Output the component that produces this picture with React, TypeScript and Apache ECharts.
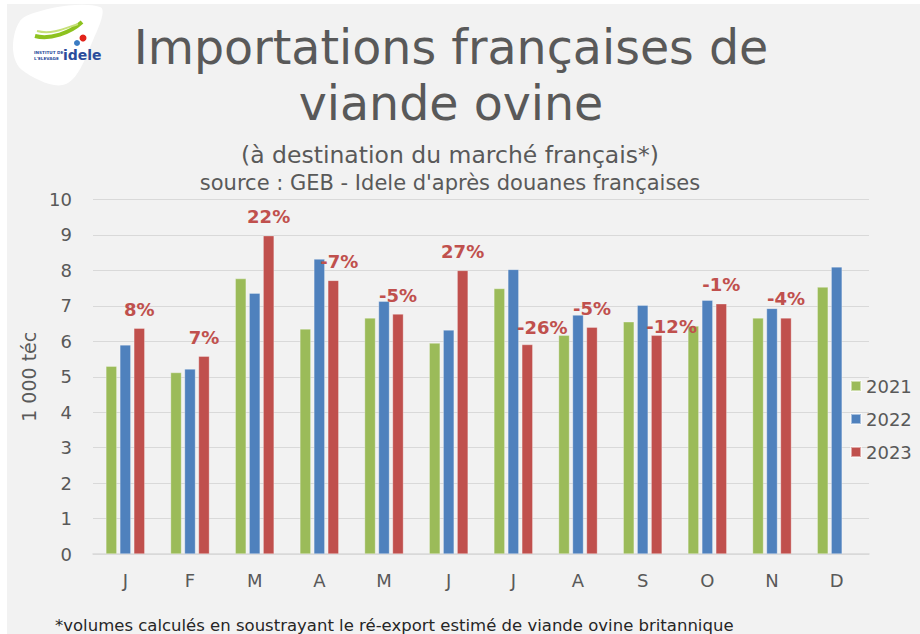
import React, { useEffect, useRef } from "react";
import * as echarts from "echarts";

const months = ["J", "F", "M", "A", "M", "J", "J", "A", "S", "O", "N", "D"];
const years = ["2021", "2022", "2023"];
const v2021 = [5.3, 5.12, 7.77, 6.35, 6.66, 5.95, 7.49, 6.17, 6.55, 6.43, 6.66, 7.53];
const v2022 = [5.9, 5.22, 7.36, 8.32, 7.13, 6.32, 8.03, 6.74, 7.02, 7.16, 6.93, 8.1];
const v2023 = [6.37, 5.58, 8.98, 7.72, 6.77, 8.0, 5.91, 6.4, 6.17, 7.06, 6.66, null];
const changeLabels = ["8%", "7%", "22%", "-7%", "-5%", "27%", "-26%", "-5%", "-12%", "-1%", "-4%", ""];
const yTicks = [0, 10, 1];

const titleLine1 = "Importations françaises de";
const titleLine2 = "viande ovine";
const subtitle = "(à destination du marché français*)";
const source = "source : GEB - Idele d'après douanes françaises";
const footnote = "*volumes calculés en soustrayant le ré-export estimé de viande ovine britannique";
const yName = "1 000 téc";

const COLORS = ["#9bbb59", "#4f81bd", "#c0504d"];
const GRAY = "#595959";
const FONT = "'DejaVu Sans', sans-serif";
// label nudges for crowded months (styling only)
const labelNudge: Record<number, number[]> = { 3: [6, 0], 6: [15, 2], 8: [15, 10] };

export default function App() {
  const ref = useRef<HTMLDivElement>(null);
  useEffect(() => {
    document.body.style.margin = "0";
    const chart = echarts.init(ref.current!, null, { renderer: "svg" });
    const mk = (vals: (number | null)[], i: number) => ({
      name: years[i],
      type: "bar",
      barWidth: 11,
      barGap: "27%",
      itemStyle: { color: COLORS[i], borderColor: "rgba(255,255,255,0.5)", borderWidth: 0.6 },
      data:
        i === 2
          ? vals.map((v, k) => ({
              value: v,
              label: {
                show: changeLabels[k] !== "",
                formatter: changeLabels[k],
                offset: labelNudge[k] || [0, 0],
              },
            }))
          : vals,
      label:
        i === 2
          ? { show: true, position: "top", distance: 10, color: "#c0504d", fontWeight: "bold", fontSize: 18, fontFamily: FONT }
          : { show: false },
    });
    chart.setOption({
      animation: false,
      backgroundColor: "#ffffff",
      graphic: [
        { type: "rect", shape: { x: 7, y: 4, width: 913, height: 630 }, style: { fill: "#f2f2f2" }, z: -10 },
        {
          type: "polygon",
          shape: { points: [[13, 44], [26, 16], [100, 7], [94, 38], [66, 84], [22, 70]], smooth: 0.35 },
          style: { fill: "#ffffff" },
        },
        { type: "bezierCurve", shape: { x1: 35, y1: 36, x2: 82, y2: 22, cpx1: 50, cpy1: 40, cpx2: 70, cpy2: 33 }, style: { stroke: "#8dc21f", lineWidth: 4, fill: "none" } },
        { type: "bezierCurve", shape: { x1: 37, y1: 31, x2: 78, y2: 24, cpx1: 52, cpy1: 35, cpx2: 66, cpy2: 28 }, style: { stroke: "#c6e07a", lineWidth: 2, fill: "none" } },
        { type: "circle", shape: { cx: 77, cy: 43, r: 3 }, style: { fill: "#3a7cc3" } },
        { type: "circle", shape: { cx: 83, cy: 38, r: 3.5 }, style: { fill: "#e2231a" } },
        { type: "text", x: 34, y: 50, style: { text: "INSTITUT DE", fill: "#2b4c9b", fontSize: 4.2, fontWeight: "bold", fontFamily: FONT } },
        { type: "text", x: 34, y: 56, style: { text: "L'ELEVAGE", fill: "#2b4c9b", fontSize: 4.2, fontWeight: "bold", fontFamily: FONT } },
        { type: "text", x: 63, y: 48, style: { text: "idele", fill: "#2b4c9b", fontSize: 14, fontWeight: "bold", fontFamily: FONT } },
        { type: "text", x: 451, y: 47, style: { text: titleLine1, fill: GRAY, fontSize: 47.5, fontFamily: FONT, align: "center", verticalAlign: "middle" } },
        { type: "text", x: 451, y: 103, style: { text: titleLine2, fill: GRAY, fontSize: 47.5, fontFamily: FONT, align: "center", verticalAlign: "middle" } },
        { type: "text", x: 450, y: 155, style: { text: subtitle, fill: GRAY, fontSize: 23.5, fontFamily: FONT, align: "center", verticalAlign: "middle" } },
        { type: "text", x: 450, y: 183, style: { text: source, fill: GRAY, fontSize: 21, fontFamily: FONT, align: "center", verticalAlign: "middle" } },
        { type: "text", x: 55, y: 625, style: { text: footnote, fill: "#262626", fontSize: 16.5, fontFamily: FONT, verticalAlign: "middle" } },
      ],
      legend: {
        orient: "vertical",
        left: 845,
        top: 372,
        itemWidth: 10,
        itemHeight: 10,
        itemGap: 15,
        icon: "rect",
        data: years,
        textStyle: { color: GRAY, fontSize: 18, fontFamily: FONT },
      },
      grid: { left: 93, right: 51, top: 199.5, bottom: 80, containLabel: false },
      xAxis: {
        type: "category",
        data: months,
        axisLine: { lineStyle: { color: "#d9d9d9", width: 1.5 } },
        axisTick: { show: false },
        axisLabel: { color: GRAY, fontSize: 18, fontFamily: FONT, margin: 17 },
      },
      yAxis: {
        type: "value",
        min: yTicks[0],
        max: yTicks[1],
        interval: yTicks[2],
        name: yName,
        nameLocation: "middle",
        nameGap: 47,
        nameRotate: 90,
        nameTextStyle: { color: GRAY, fontSize: 19, fontFamily: FONT },
        axisLine: { show: false },
        axisTick: { show: false },
        axisLabel: { color: GRAY, fontSize: 18, fontFamily: FONT, margin: 21 },
        splitLine: { lineStyle: { color: "#d9d9d9", width: 1.2 } },
      },
      series: [mk(v2021, 0), mk(v2022, 1), mk(v2023, 2)],
    });
    return () => chart.dispose();
  }, []);
  return <div ref={ref} style={{ width: 920, height: 634, position: "absolute", left: 0, top: 0 }} />;
}
